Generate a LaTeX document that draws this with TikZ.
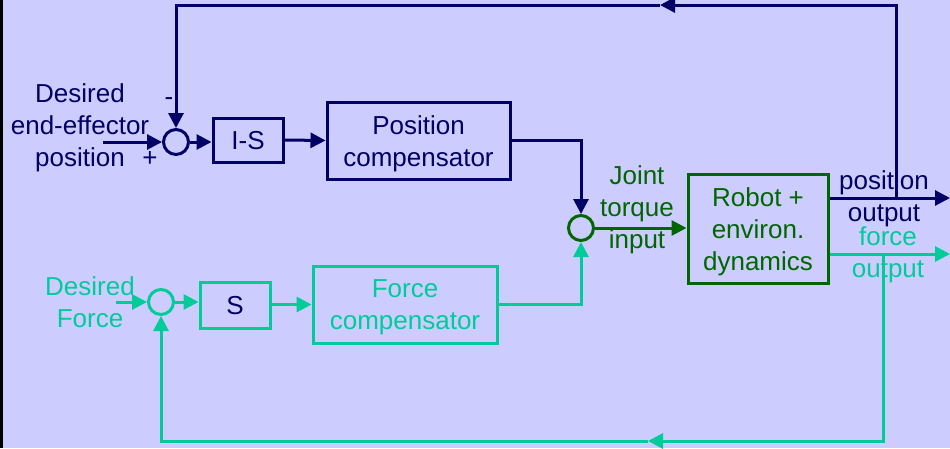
\documentclass[tikz,border=0pt]{standalone}
\usepackage{fontspec}
\setmainfont{Liberation Sans}
\usetikzlibrary{arrows.meta}
\definecolor{navy}{HTML}{000066}
\definecolor{dgreen}{HTML}{006600}
\definecolor{teal2}{HTML}{00CC99}
\definecolor{bgc}{HTML}{CCCCFF}
\begin{document}
\begin{tikzpicture}[x=1pt,y=-1pt,
  every node/.style={font=\fontsize{26}{32}\selectfont},
  arr/.style={line width=3pt,-{Triangle[length=15pt,width=15pt]}},
  box/.style={draw,line width=3pt,rectangle,inner sep=0pt},
  sumc/.style={draw,circle,line width=3pt,minimum size=25pt,inner sep=0pt},
  lbl/.style={align=center,inner sep=0pt}]
\fill[bgc] (0,0) rectangle (950,448);
\useasboundingbox (0,0) rectangle (950,448);
\draw[black,line width=3pt] (1.5,0) -- (1.5,448);
% position loop
\node[sumc,navy] (s1) at (176,142) {};
\node[box,navy,minimum width=70pt,minimum height=44pt] (is) at (248,140) {};
\node[lbl,navy] (ist) at (248,141) {I-S};
\node[box,navy,minimum width=183pt,minimum height=77pt] (pc) at (418.5,140.5) {};
\node[lbl,navy] (pct) at (418.5,143.5) {Position\\compensator};
% force loop
\node[sumc,teal2] (s3) at (161,302) {};
\node[box,teal2,minimum width=70pt,minimum height=46pt] (s) at (235,305) {};
\node[lbl,navy] (st) at (235,306) {S};
\node[box,teal2,minimum width=184pt,minimum height=77pt] (fc) at (405,304.5) {};
\node[lbl,teal2] (fct) at (405,307) {Force\\compensator};
% robot
\node[sumc,dgreen] (s2) at (581,228) {};
\node[box,dgreen,minimum width=140pt,minimum height=109pt] (rob) at (758,228.5) {};
\node[lbl,dgreen] (robt) at (758,232) {Robot +\\environ.\\dynamics};
% labels
\node[lbl,navy] (dp) at (80,128) {Desired\\end-effector\\position};
\node[lbl,navy] (minus) at (169,102) {-};
\node[lbl,navy] (plus) at (150,159) {+};
\node[lbl,teal2] (df) at (90,302) {Desired\\Force};
\node[lbl,dgreen] (jt) at (637,210) {Joint\\torque\\input};
\node[lbl,navy] (pol) at (884,199) {position\\output};
\node[lbl,teal2] (fol) at (888,255) {force\\output};
% coordinates
\coordinate (in1) at (103,142);
\coordinate (in3) at (116,302);
\coordinate (po) at (950,198);
\coordinate (fo) at (950,254);
\coordinate (fb1) at (896,198);
\coordinate (t1) at (896,5);
\coordinate (tip1) at (660,5);
\coordinate (fb2) at (883,254);
\coordinate (b2) at (883,441);
\coordinate (tip2) at (648,441);
% position connectors
\draw[arr,navy] (in1) -- (s1.west);
\draw[arr,navy] (s1.east) -- (s1.east -| is.west);
\draw[arr,navy] (is.east) -- (pc.west);
\draw[arr,navy] (pc.east) -| (s2.north);
\draw[arr,navy] (rob.east |- po) -- (po);
\draw[arr,navy] (fb1) -- (t1) -- (tip1);
\draw[arr,navy] (tip1) -| (s1.north);
% force connectors
\draw[arr,teal2] (in3) -- (s3.west);
\draw[arr,teal2] (s3.east) -- (s3.east -| s.west);
\draw[arr,teal2] (s.east |- fc) -- (fc.west);
\draw[arr,teal2] (fc.east) -| (s2.south);
\draw[arr,teal2] (rob.east |- fo) -- (fo);
\draw[arr,teal2] (fb2) -- (b2) -- (tip2);
\draw[arr,teal2] (tip2) -| (s3.south);
% robot input
\draw[arr,dgreen] (s2.east) -- (s2.east -| rob.west);
\end{tikzpicture}
\end{document}
